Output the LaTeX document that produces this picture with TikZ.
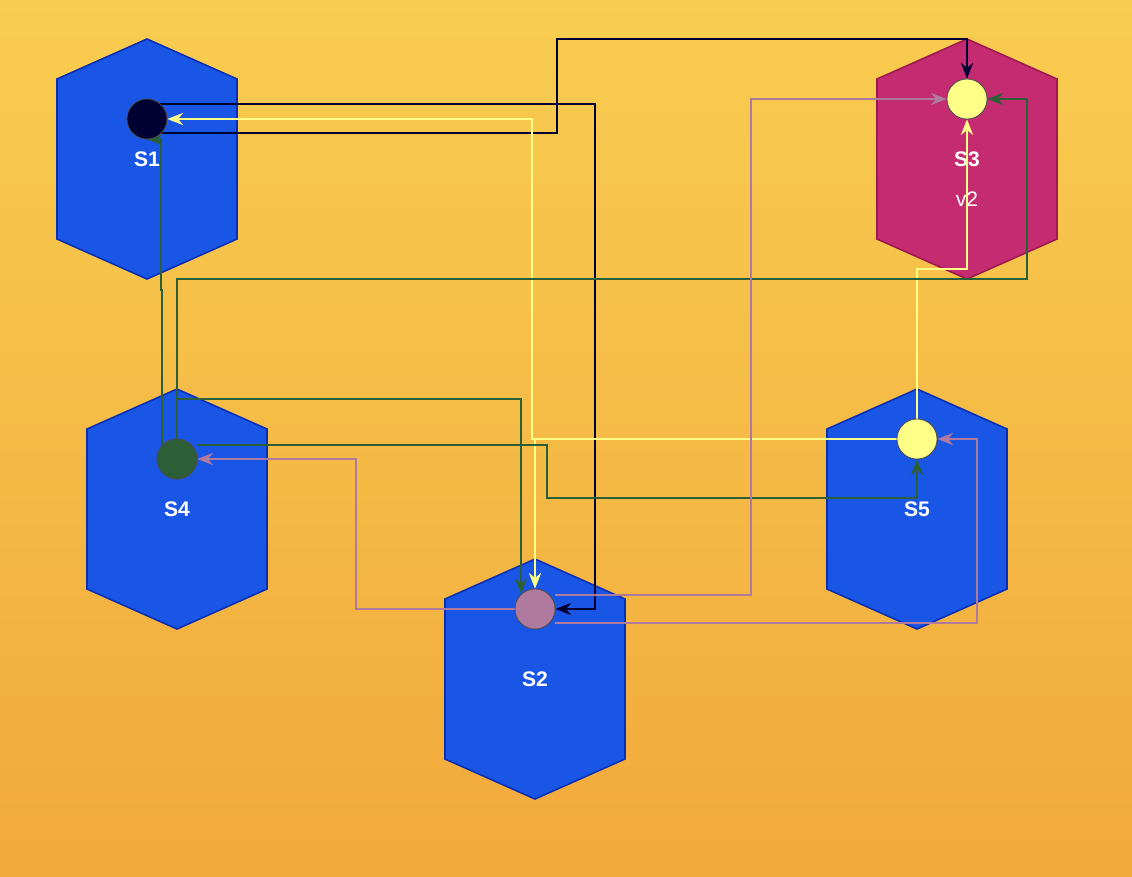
\documentclass[tikz,border=0pt]{standalone}
\usepackage{fontspec}
\setmainfont{Liberation Sans}
\usetikzlibrary{arrows.meta,calc}
\definecolor{bgtop}{HTML}{F8CD50}
\definecolor{bgbot}{HTML}{F2A93B}
\definecolor{hexblue}{HTML}{1A56E6}
\definecolor{hexline}{HTML}{0A2FB5}
\definecolor{hexpink}{HTML}{C42B70}
\definecolor{pinkline}{HTML}{A01850}
\definecolor{navy}{HTML}{000033}
\definecolor{ylw}{HTML}{FFFF88}
\definecolor{grn}{HTML}{2D5F36}
\definecolor{mauve}{HTML}{B07A9E}
\tikzstyle{hexlabel} = [text=white, font=\bfseries\large]
\tikzstyle{port} = [circle, minimum size=40*0.02cm, inner sep=0pt, draw=black!70, thin]
\newcommand{\hexagon}[3]{%
  \filldraw[#3] (#1,#2-120) -- (#1+90,#2-80) -- (#1+90,#2+80) -- (#1,#2+120)
    -- (#1-90,#2+80) -- (#1-90,#2-80) -- cycle;}

\begin{document}
\begin{tikzpicture}[x=0.02cm,y=-0.02cm,>={Stealth[length=9pt,width=7pt]},line width=0.9pt]
  \shade[top color=bgtop, bottom color=bgbot] (0,0) rectangle (1132,876);
  % hexagons
  \hexagon{147}{159}{fill=hexblue, draw=hexline}
  \hexagon{177}{509}{fill=hexblue, draw=hexline}
  \hexagon{535}{679}{fill=hexblue, draw=hexline}
  \hexagon{917}{509}{fill=hexblue, draw=hexline}
  \hexagon{967}{159}{fill=hexpink, draw=pinkline}
  \node[hexlabel] (s1) at (147,159) {S1};
  \node[hexlabel] (s4) at (177,509) {S4};
  \node[hexlabel] (s2) at (535,679) {S2};
  \node[hexlabel] (s5) at (917,509) {S5};
  \node[hexlabel] (s3) at (967,159) {S3};
  \node[text=white, font=\large] (ver) at (967,199) {v2};
  % ports
  \coordinate (p1) at (147,119);
  \coordinate (p3) at (967,99);
  \coordinate (p4) at (177,459);
  \coordinate (p5) at (917,439);
  \coordinate (p2) at (535,609);
  \node[port] (c1) at (p1) {};
  \node[port] (c3) at (p3) {};
  \node[port] (c4) at (p4) {};
  \node[port] (c5) at (p5) {};
  \node[port] (c2) at (p2) {};
  % black
  \draw[navy,->] ($(c1)+(0,-15)$) -- (595,104) -- (595,609) -- (c2.east);
  \draw[navy,->] ($(c1)+(0,14)$) -- (557,133) -- (557,39) -- (967,39) -- (c3.north);
  % yellow
  \draw[ylw,->] (c5.west) -- (532,439) -- (532,119) -- (c1.east);
  \draw[ylw,->] (532,439) -- (535,439) -- (c2.north);
  \draw[ylw,->] (c5.north) -- (917,269) -- (967,269) -- (c3.south);
  % green
  \draw[grn,->] ($(c4)+(-15,0)$) -- (162,290) -- (161,290) -- (161,139) -- (c1.south);
  \draw[grn,->] (c4) -- (177,279) -- (1027,279) -- (1027,99) -- (c3.east);
  \draw[grn,->] (c4) -- (177,399) -- (521,399) -- (521,594);
  \draw[grn,->] ($(c4)+(20,-14)$) -- (547,445) -- (547,498) -- (917,498) -- (c5.south);
  % mauve
  \draw[mauve,->] (c2.west) -- (356,609) -- (356,459) -- (c4.east);
  \draw[mauve,->] ($(c2)+(20,-14)$) -- (751,595) -- (751,99) -- (c3.west);
  \draw[mauve,->] ($(c2)+(20,14)$) -- (977,623) -- (977,439) -- (c5.east);
  % ports on top
  \node[port, fill=navy] at (p1) {};
  \node[port, fill=ylw] at (p3) {};
  \node[port, fill=grn] at (p4) {};
  \node[port, fill=ylw] at (p5) {};
  \node[port, fill=mauve] at (p2) {};
\end{tikzpicture}
\end{document}
